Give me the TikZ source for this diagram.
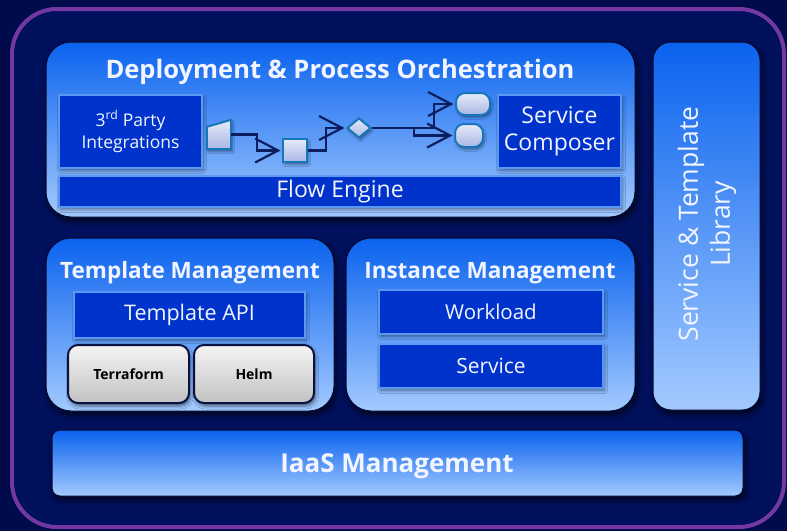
\documentclass[tikz,border=0pt]{standalone}
\usepackage{fontspec}
\setmainfont{Open Sans}
\usetikzlibrary{shapes.geometric,arrows.meta,shadows.blur,calc}

\definecolor{outerbg}{HTML}{000B4C}
\definecolor{innerbg}{HTML}{00105C}
\definecolor{frame}{HTML}{7438A2}
\definecolor{paneltop}{HTML}{0A62EE}
\definecolor{panelbot}{HTML}{A3CAFF}
\definecolor{panelrim}{HTML}{020830}
\definecolor{darkbox}{HTML}{0033CC}
\definecolor{darkrim}{HTML}{5A98F2}
\definecolor{flowtop}{HTML}{E6EAFA}
\definecolor{flowbot}{HTML}{A9B7E4}
\definecolor{flowrim}{HTML}{1577B8}
\definecolor{flowline}{HTML}{0C1E5E}
\definecolor{btntop}{HTML}{F4F4F4}
\definecolor{btnbot}{HTML}{C2C2C2}
\definecolor{btnrim}{HTML}{0A1240}
\definecolor{labelwhite}{HTML}{F2F5FF}

\tikzset{
  panel/.style={draw=panelrim, line width=1pt, top color=paneltop, bottom color=panelbot,
    rounded corners=#1, inner sep=0pt,
    blur shadow={shadow xshift=2pt, shadow yshift=-4pt, shadow blur radius=6pt, shadow opacity=70}},
  panel/.default=25pt,
  paneltitle/.style={text=labelwhite, font=\bfseries\fontsize{22.5}{26}\selectfont, inner sep=0pt},
  darkbox/.style={draw=darkrim, line width=1.5pt, fill=darkbox, inner sep=0pt,
    text=labelwhite, align=center,
    blur shadow={shadow xshift=1.5pt, shadow yshift=-2.5pt, shadow blur radius=3pt, shadow opacity=45}},
  button/.style={draw=btnrim, line width=2pt, top color=btntop, bottom color=btnbot,
    rounded corners=10pt, inner sep=0pt, text=black,
    font=\bfseries\fontsize{14}{16}\selectfont,
    blur shadow={shadow xshift=1.5pt, shadow yshift=-3pt, shadow blur radius=3pt, shadow opacity=50}},
  flowshape/.style={draw=flowrim, line width=2pt, top color=flowtop, bottom color=flowbot,
    inner sep=0pt,
    blur shadow={shadow xshift=1.5pt, shadow yshift=-2.5pt, shadow blur radius=2pt, shadow opacity=40}},
  flowanchor/.style={inner sep=0pt, draw=none, fill=none},
  flowlink/.style={draw=flowline, line width=2.2pt,
    -{Straight Barb[length=23pt, width=24pt]}, shorten >=1.5pt},
}

\begin{document}
\begin{tikzpicture}[x=1pt, y=-1pt]
  \useasboundingbox (0,0) rectangle (787,531);
  \fill[outerbg] (0,0) rectangle (787,531);

  % outer frame
  \draw[frame, line width=4pt, fill=innerbg, rounded corners=45pt] (12,9) rectangle (784,527);

  % main panels
  \node[panel, minimum width=589pt, minimum height=175pt] (deploy) at (340.5,129.5) {};
  \node[panel=18pt, minimum width=107pt, minimum height=368pt] (library) at (706.5,226) {};
  \node[panel, minimum width=288pt, minimum height=173pt] (tmpl) at (190,324.5) {};
  \node[panel, minimum width=289pt, minimum height=173pt] (inst) at (490.5,324.5) {};
  \node[panel=8pt, minimum width=691pt, minimum height=66pt] (iaas) at (397.5,463) {};

  % panel titles
  \node[paneltitle, font=\bfseries\fontsize{25.5}{30}\selectfont] (deploytitle) at (340,71.5) {Deployment \& Process Orchestration};
  \node[paneltitle] (tmpltitle) at (190,273) {Template Management};
  \node[paneltitle] (insttitle) at (490,273) {Instance Management};
  \node[paneltitle, font=\bfseries\fontsize{26}{30}\selectfont] (iaastitle) at (397,466.5) {IaaS Management};
  \node[text=labelwhite, rotate=90, align=center, inner sep=0pt,
        font=\fontsize{26.5}{32}\selectfont] (libtitle) at (707,224) {Service \& Template\\Library};

  % orchestration contents
  \node[darkbox, minimum width=143pt, minimum height=73pt, font=\fontsize{17.5}{22}\selectfont]
    (party) at (130.5,131.5) {3\textsuperscript{rd} Party\\Integrations};
  \node[darkbox, minimum width=123pt, minimum height=73pt, font=\fontsize{23}{27}\selectfont]
    (composer) at (559.5,131.5) {\raisebox{-2pt}{Service}\\\raisebox{-2pt}{Composer}};
  \node[darkbox, minimum width=562pt, minimum height=31pt, font=\fontsize{23}{26}\selectfont]
    (flow) at (340,191.5) {\raisebox{-1.5pt}{Flow Engine}};

  % flow sketch
  \node[flowanchor, minimum width=24pt, minimum height=29pt] (input) at (219,134.5) {};
  \draw[flowshape] (input.south west) -- (input.south east) -- (input.north east)
    -- ($(input.north west)+(0,7)$) -- cycle;
  \node[flowshape, minimum width=24pt, minimum height=23pt] (task) at (295,150.5) {};
  \node[flowshape, diamond, minimum width=24pt, minimum height=20pt] (gate) at (359,128) {};
  \node[flowshape, rounded corners=9pt, minimum width=34pt, minimum height=22pt] (endA) at (473,104) {};
  \node[flowshape, rounded corners=9pt, minimum width=28pt, minimum height=23pt] (endB) at (469,135.5) {};

  \draw[flowlink] (input.east) -- ++(26,0) |- (task.west);
  \draw[flowlink] (task.east) -- ++(18,0) |- (gate.west);
  \draw[flowlink] (gate.east) -- ++(62,0) |- (endA.west);
  \draw[flowlink] (gate.east) -- ++(42,0) |- (endB.west);

  % template management contents
  \node[darkbox, minimum width=231pt, minimum height=46pt, font=\fontsize{21.5}{25}\selectfont]
    (tapi) at (189.5,315) {\raisebox{-1pt}{Template API}};
  \node[button, minimum width=121pt, minimum height=58pt] (terraform) at (128.5,374) {Terraform};
  \node[button, minimum width=120pt, minimum height=58pt] (helm) at (254,374) {Helm};

  % instance management contents
  \node[darkbox, minimum width=224pt, minimum height=44pt, font=\fontsize{20.5}{24}\selectfont]
    (workload) at (491,312) {Workload};
  \node[darkbox, minimum width=224pt, minimum height=44pt, font=\fontsize{21}{24}\selectfont]
    (service) at (491,366) {Service};
\end{tikzpicture}
\end{document}
